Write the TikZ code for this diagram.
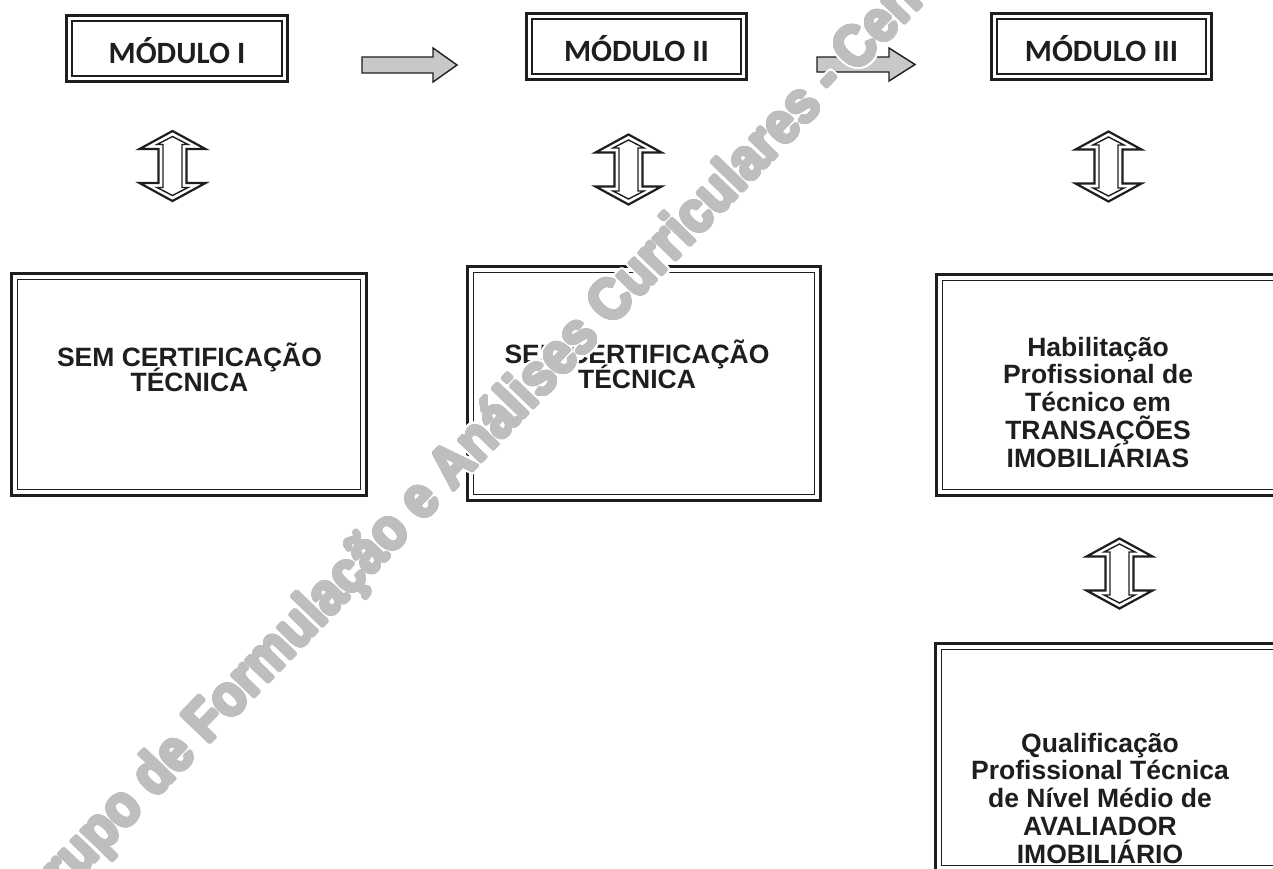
\documentclass[tikz,border=0pt]{standalone}
\usepackage{fontspec}
\setmainfont{Liberation Sans}
\newfontfamily\modfont{Carlito}
\usepackage{contour}
\contournumber{32}
\definecolor{ink}{HTML}{1E1E1E}
\definecolor{wmgray}{HTML}{BEBEBE}
\definecolor{arrowgray}{HTML}{C8C8C8}
\newcommand\innerframe[2]{\draw[innerline] ([xshift=#2,yshift=-#2]#1.north west) rectangle ([xshift=-#2,yshift=#2]#1.south east);}
\newcommand\wmtext{Grupo de Formulação e Análises Curriculares - Centro}
\newcommand\tightlines{\lineskiplimit=-200pt\relax\lineskip=0pt\relax}
\tikzset{
  outerbox/.style={draw=ink, line width=2.8pt, inner sep=0pt, outer sep=0pt, rectangle},
  innerline/.style={draw=ink, line width=1.6pt},
  modlabel/.style={text=ink, font=\modfont\bfseries\fontsize{31}{31}\selectfont, anchor=base, inner sep=0pt},
  boxtext/.style={text=ink, font=\bfseries\fontsize{26.5}{25}\selectfont\tightlines, align=center, anchor=base, inner sep=0pt},
  boxtextb/.style={text=ink, font=\bfseries\fontsize{26.5}{27.7}\selectfont\tightlines, align=center, anchor=base, inner sep=0pt},
  grayarrow/.style={draw=ink, line width=1.4pt, fill=arrowgray, line join=miter},
  arrowout/.style={draw=ink, line width=2.2pt, line join=miter},
  arrowin/.style={draw=ink, line width=1.4pt, line join=miter},
  udarrow/.pic={
    \draw[arrowout] (0,-35) -- (33,-17) -- (14,-17) -- (14,17) -- (33,17) -- (0,35)
       -- (-33,17) -- (-14,17) -- (-14,-17) -- (-33,-17) -- cycle;
    \draw[arrowin] (0,-29.5) -- (15.5,-21.5) -- (9.5,-21.5) -- (9.5,21.5) -- (15.5,21.5) -- (0,29.5)
       -- (-15.5,21.5) -- (-9.5,21.5) -- (-9.5,-21.5) -- (-15.5,-21.5) -- cycle;
  },
  wm/.style={font=\bfseries\fontsize{52}{52}\selectfont, inner sep=0pt, rotate=46, yscale=1.12, anchor=base west}
}
\begin{document}
\begin{tikzpicture}[x=1pt,y=-1pt]
\useasboundingbox (0,0) rectangle (1273,868);
\clip (0,0) rectangle (1273,868);
\fill[white] (0,0) rectangle (1273,868);

% module boxes
\node[outerbox, minimum width=221pt, minimum height=66pt] (m1) at (177,48.5) {};
\innerframe{m1}{5.5pt}
\node[outerbox, minimum width=220pt, minimum height=66pt] (m2) at (636.5,46.5) {};
\innerframe{m2}{5.5pt}
\node[outerbox, minimum width=220pt, minimum height=66pt] (m3) at (1101.5,46.5) {};
\innerframe{m3}{5.5pt}
\node[modlabel] (lm1) at (177,63) {MÓDULO I};
\node[modlabel] (lm2) at (636.5,61) {MÓDULO II};
\node[modlabel] (lm3) at (1101.5,61) {MÓDULO III};

% gray arrows between modules
\draw[grayarrow] (362,57) -- (433,57) -- (433,48) -- (457,65) -- (433,82) -- (433,73) -- (362,73) -- cycle;
\draw[grayarrow] (817,57) -- (889,57) -- (889,48) -- (915,64.5) -- (889,81) -- (889,72) -- (817,72) -- cycle;

% double arrows
\pic (a1) at (172.5,166) {udarrow};
\pic (a2) at (628.5,169.5) {udarrow};
\pic (a3) at (1108.5,166.5) {udarrow};
\pic (a4) at (1119.5,573.5) {udarrow};

% large boxes
\node[outerbox, minimum width=355pt, minimum height=222pt] (b1) at (189,384.5) {};
\innerframe{b1}{6pt}
\node[outerbox, minimum width=353pt, minimum height=234pt] (b2) at (644,383.5) {};
\innerframe{b2}{6pt}
\node[outerbox, minimum width=355pt, minimum height=221pt] (b3) at (1114,385) {};
\innerframe{b3}{6pt}
\node[outerbox, minimum width=356pt, minimum height=228pt] (b4) at (1113.5,757.5) {};
\innerframe{b4}{6pt}

\node[boxtext] (tb1) at (189.5,391) {SEM CERTIFICAÇÃO\\TÉCNICA};
\node[boxtext] (tb2) at (637,388.5) {SEM CERTIFICAÇÃO\\TÉCNICA};
\node[boxtextb] (tb3) at (1098,467) {Habilitação\\Profissional de\\Técnico em\\TRANSAÇÕES\\IMOBILIÁRIAS};
\node[boxtextb] (tb4) at (1100,863) {Qualificação\\Profissional Técnica\\de Nível Médio de\\AVALIADOR\\IMOBILIÁRIO};

% watermark: white halo, then heavy gray letters
\node[wm, text=white] (wmhalo) at (37,922) {\contourlength{3.6pt}\contour{white}{\wmtext}};
\node[wm, text=wmgray] (wmk) at (37,922) {\contourlength{1.5pt}\contour{wmgray}{\wmtext}};
\end{tikzpicture}
\end{document}
